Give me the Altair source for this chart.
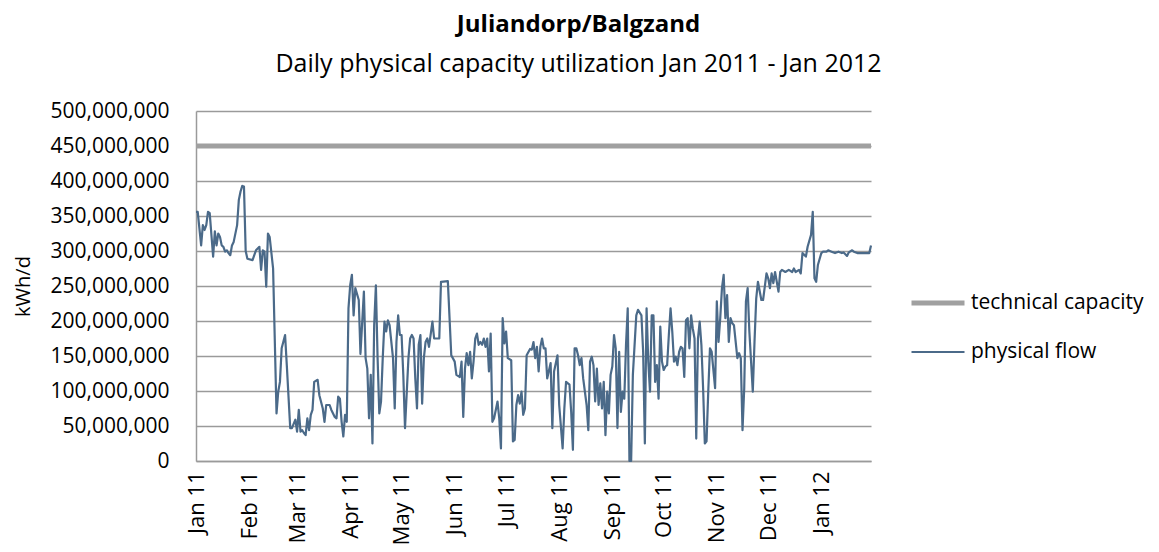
import altair as alt
import pandas as pd

# physical flow: day offset from 2011-01-01 and value in million kWh/d
flow_days = [
    0, 1, 3, 4, 5, 6, 7, 8, 10, 11, 12, 13, 14, 15, 16, 17, 18, 19, 20, 21, 22, 24, 25, 26, 27, 28, 29, 30,
    33, 35, 37, 38, 39, 40, 41, 42, 43, 45, 47, 48, 49, 50, 52, 53, 55, 56, 58, 59, 60, 61, 62, 63, 64, 65,
    66, 67, 68, 69, 71, 72, 74, 75, 76, 78, 79, 81, 82, 83, 84, 85, 86, 87, 88, 89, 90, 91, 92, 93, 95, 96,
    98, 99, 100, 101, 102, 103, 104, 105, 106, 107, 108, 109, 110, 111, 112, 113, 115, 116, 117, 118, 119,
    120, 121, 122, 124, 125, 126, 127, 128, 129, 130, 131, 132, 133, 134, 135, 136, 138, 139, 142, 143, 147,
    149, 151, 152, 154, 155, 156, 157, 158, 159, 160, 161, 162, 163, 164, 165, 166, 167, 168, 169, 170, 171,
    172, 173, 174, 176, 177, 178, 179, 180, 181, 182, 184, 185, 186, 187, 188, 189, 190, 191, 192, 193, 195,
    196, 197, 198, 199, 200, 201, 202, 203, 204, 205, 207, 208, 209, 211, 212, 214, 215, 216, 218, 219, 220,
    221, 222, 223, 224, 225, 226, 228, 229, 230, 231, 232, 233, 234, 235, 236, 237, 238, 239, 240, 241, 242,
    243, 244, 245, 246, 247, 248, 249, 250, 251, 252, 253, 254, 255, 257, 258, 260, 261, 262, 263, 264, 265,
    266, 267, 268, 269, 270, 271, 272, 273, 274, 275, 276, 277, 278, 279, 280, 281, 282, 283, 284, 285, 286,
    287, 288, 289, 290, 291, 292, 293, 294, 295, 296, 297, 298, 299, 300, 301, 303, 304, 305, 306, 307, 308,
    309, 310, 311, 312, 313, 314, 316, 317, 318, 319, 320, 321, 322, 323, 325, 326, 327, 328, 330, 331, 333,
    334, 335, 336, 337, 338, 340, 341, 342, 344, 346, 348, 349, 350, 352, 353, 354, 356, 357, 359, 360, 361,
    362, 363, 365, 366, 368, 369, 371, 373, 375, 377, 378, 380, 381, 383, 384, 386, 388, 390, 392, 393, 394,
]
flow_values_m = [
    356, 356, 308, 337, 330, 337, 356, 354, 292, 328, 308, 325, 320, 308, 306, 299, 301, 297, 294, 308, 313, 337, 373, 385, 393, 392, 300, 289,
    287, 301, 306, 273, 301, 299, 249, 325, 320, 275, 68, 99, 113, 161, 180, 137, 47, 47, 59, 42, 73, 42, 44, 40, 37, 61,
    44, 66, 73, 113, 116, 94, 75, 56, 80, 80, 73, 63, 61, 92, 89, 56, 35, 66, 56, 218, 251, 266, 208, 247, 230, 153,
    242, 147, 132, 61, 123, 25, 194, 251, 147, 68, 85, 147, 199, 185, 201, 194, 147, 75, 170, 208, 180,
    180, 123, 47, 147, 175, 180, 175, 118, 75, 166, 180, 82, 147, 170, 175, 163, 199, 175, 175, 256, 257,
    151, 142, 123, 120, 142, 63, 132, 154, 137, 156, 118, 142, 175, 182, 166, 170, 166, 175, 163, 175, 128,
    182, 56, 61, 85, 61, 18, 204, 168, 185, 147, 144, 28, 30, 80, 94, 82, 99, 66, 75, 151, 160,
    159, 170, 147, 163, 128, 163, 175, 161, 161, 118, 140, 47, 128, 151, 80, 18, 75, 113, 109, 70, 16,
    161, 161, 151, 137, 147, 118, 80, 44, 142, 149, 137, 85, 132, 80, 111, 75, 113, 37, 99, 68, 123,
    135, 180, 161, 47, 156, 70, 99, 89, 166, 218, 0, 0, 123, 208, 216, 208, 156, 25, 218, 142, 99,
    208, 208, 113, 137, 89, 192, 142, 130, 135, 137, 180, 218, 185, 142, 149, 137, 156, 163, 161, 120, 201,
    204, 161, 208, 189, 175, 32, 175, 199, 166, 104, 25, 28, 99, 161, 156, 104, 228, 170, 204, 247, 266,
    204, 237, 170, 204, 197, 194, 147, 154, 147, 44, 104, 228, 247, 185, 99, 170, 232, 256, 230, 230, 268,
    261, 247, 268, 254, 270, 242, 270, 273, 270, 273, 270, 275, 270, 273, 268, 297, 292, 306, 323, 356, 261,
    256, 280, 297, 299, 299, 301, 299, 297, 299, 297, 298, 293, 298, 301, 299, 297, 297, 297, 297, 297, 308,
]

# technical capacity (flat)
cap_days = [0, 394]
cap_values_m = [450, 450]

series_names = ["technical capacity", "physical flow"]
series_colors = ["#a0a0a0", "#4b6a89"]
series_widths = [5, 2.2]

start = pd.Timestamp("2011-01-01")
flow = pd.DataFrame({
    "date": start + pd.to_timedelta(flow_days, unit="D"),
    "value": [v * 1e6 for v in flow_values_m],
    "series": "physical flow",
})
cap = pd.DataFrame({
    "date": start + pd.to_timedelta(cap_days, unit="D"),
    "value": [v * 1e6 for v in cap_values_m],
    "series": "technical capacity",
})
df = pd.concat([cap, flow], ignore_index=True)

y_ticks = list(range(0, 500_000_001, 50_000_000))

legend_opts = dict(
    title=None, orient="none", legendX=713, legendY=163,
    symbolType="stroke", symbolSize=2809, labelFontSize=21, labelColor="#000000",
    labelOffset=4, rowPadding=11, labelLimit=400,
)

chart = alt.Chart(df).mark_line(strokeCap="butt", strokeJoin="round").encode(
    x=alt.X(
        "date:T",
        scale=alt.Scale(
            domain=[alt.DateTime(year=2011, month=1, date=1), alt.DateTime(year=2012, month=1, date=30)],
            nice=False,
        ),
        axis=alt.Axis(
            title=None, format="%b %y", tickCount={"interval": "month", "step": 1},
            labelAngle=-90, labelAlign="right", labelBaseline="middle", labelPadding=10,
            ticks=False, grid=False, domainColor="#9a9a9a", domainWidth=1.5,
            labelFontSize=22, labelColor="#000000", labelFlush=False, labelOverlap=False,
        ),
    ),
    y=alt.Y(
        "value:Q",
        scale=alt.Scale(domain=[0, 500_000_000], nice=False),
        axis=alt.Axis(
            title="kWh/d", values=y_ticks, format=",d", ticks=False,
            gridColor="#9a9a9a", gridWidth=1.5, domainColor="#9a9a9a", domainWidth=1.5,
            labelFontSize=21, labelColor="#000000", labelPadding=27,
            titleFontSize=20, titleFontWeight="normal", titleColor="#000000", titlePadding=17,
        ),
    ),
    color=alt.Color(
        "series:N",
        scale=alt.Scale(domain=series_names, range=series_colors),
        legend=alt.Legend(**legend_opts),
    ),
    strokeWidth=alt.StrokeWidth(
        "series:N",
        scale=alt.Scale(domain=series_names, range=series_widths),
        legend=alt.Legend(**legend_opts),
    ),
).properties(
    width=675,
    height=350,
    title=alt.Title(
        "Juliandorp/Balgzand",
        subtitle="Daily physical capacity utilization Jan 2011 - Jan 2012",
        fontSize=24, subtitleFontSize=25, fontWeight="bold", color="#000000",
        subtitleColor="#000000", anchor="middle", frame="bounds", offset=23, subtitlePadding=15,
    ),
    padding={"left": 5, "top": 5, "right": 0, "bottom": 0},
).configure(
    font="Open Sans",
).configure_view(
    stroke=None,
)

chart.save("out.html", embed_options={"renderer": "svg", "actions": False})
